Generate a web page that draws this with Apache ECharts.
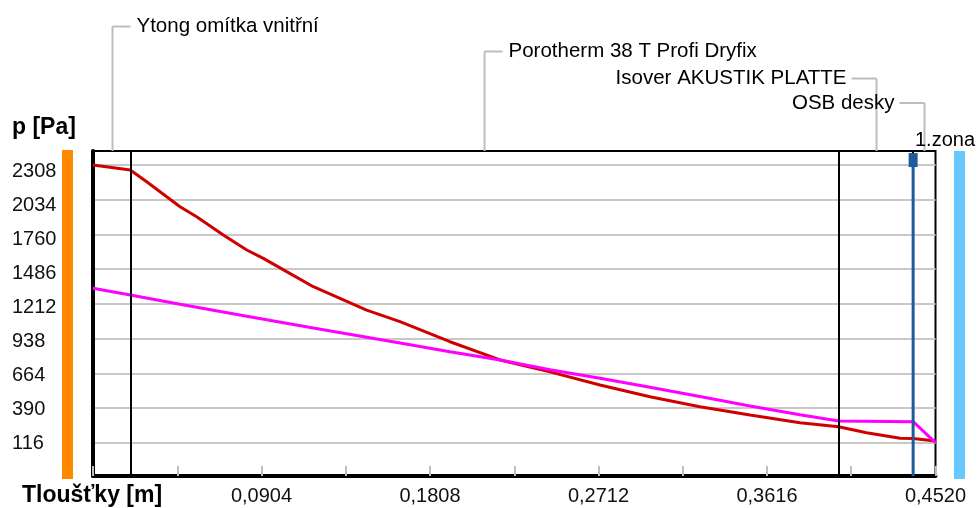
<!DOCTYPE html>
<html><head><meta charset="utf-8">
<script src="https://cdn.jsdelivr.net/npm/echarts@6/dist/echarts.min.js"></script>
<style>html,body{margin:0;padding:0;background:#fff}#c{width:978px;height:508px}</style>
</head><body><div id="c"></div>
<script>
// ---------------- data ----------------
const layerNames = ['Ytong omítka vnitřní', 'Porotherm 38 T Profi Dryfix', 'Isover AKUSTIK PLATTE', 'OSB desky'];
const layerBounds = [0, 0.02, 0.40, 0.44, 0.452];
const xLabelValues = [0.0904, 0.1808, 0.2712, 0.3616, 0.4520];
const yLabelValues = [116, 390, 664, 938, 1212, 1486, 1760, 2034, 2308];

const redX = [0, 0.02, 0.0288, 0.0467, 0.0556, 0.0699, 0.0825, 0.0914, 0.1039, 0.1182, 0.1325, 0.1468, 0.1647, 0.1915, 0.2184, 0.2452, 0.272, 0.2988, 0.3256, 0.3525, 0.3793, 0.40, 0.415, 0.433, 0.44, 0.452];
const redP = [2308, 2269, 2176, 1979, 1900, 1755, 1637, 1571, 1466, 1347, 1256, 1163, 1071, 913, 769, 675, 571, 479, 400, 334, 274, 242, 195, 151, 149, 130];

const pinkX = [0, 0.02, 0.0467, 0.0825, 0.1182, 0.1647, 0.1915, 0.2184, 0.2452, 0.272, 0.2988, 0.3256, 0.3525, 0.3793, 0.40, 0.44, 0.452];
const pinkP = [1335, 1282, 1208, 1114, 1022, 903, 834, 769, 692, 624, 553, 481, 405, 336, 287, 282, 116];

const zoneX = 0.44;
const zoneMarkerP = 2347;
const zoneName = '1.zona';
const xTitle = 'Tloušťky [m]';
const yTitle = 'p [Pa]';

// ---------------- chart ----------------
const FONT = '"Liberation Sans", Arial, sans-serif';
const yMin = -147, yMax = 2418.5;      // grid-line axis
const labMin = -148, labMax = 2475;    // label axis (labels sit slightly off the grid lines in the original)

const chart = echarts.init(document.getElementById('c'), null, {renderer: 'canvas'});

const zip = (xs, ys) => xs.map((x, i) => [x, ys[i]]);

chart.setOption({
  animation: false,
  backgroundColor: '#fff',
  grid: {left: 93, right: 42.5, top: 151, bottom: 32, show: true, borderColor: '#000', borderWidth: 2, backgroundColor: 'transparent'},
  xAxis: {
    type: 'value', min: 0, max: 0.452, interval: 0.0452,
    axisLine: {show: true, onZero: false, lineStyle: {color: '#000', width: 4}},
    axisTick: {show: true, inside: true, length: 10, lineStyle: {color: '#bdbdbd', width: 2}},
    axisLabel: {customValues: xLabelValues, formatter: v => v.toFixed(4).replace('.', ','),
      fontSize: 20, color: '#111', margin: 10, fontFamily: FONT},
    splitLine: {show: false}
  },
  yAxis: [{
    type: 'value', min: yMin, max: yMax, position: 'left',
    axisLine: {show: true, onZero: false, lineStyle: {color: '#000', width: 4}},
    axisTick: {show: false, customValues: yLabelValues},
    axisLabel: {show: false, customValues: yLabelValues},
    splitLine: {show: true, lineStyle: {color: '#c8c8c8', width: 2}}
  }, {
    type: 'value', min: labMin, max: labMax, position: 'left', offset: 0,
    axisLine: {show: false}, axisTick: {show: false}, splitLine: {show: false},
    axisLabel: {customValues: yLabelValues, formatter: v => String(Math.round(v)), align: 'left', margin: 81, fontSize: 20, color: '#111', fontFamily: FONT}
  }],
  series: [{
    type: 'line', name: 'bounds', data: [], silent: true,
    markLine: {silent: true, symbol: ['none', 'none'], label: {show: false},
      lineStyle: {color: '#000', width: 2, type: 'solid'},
      data: layerBounds.slice(1, -1).map(v => ({xAxis: v}))}
  }, {
    type: 'line', name: 'red', data: zip(redX, redP), showSymbol: false, symbol: 'none',
    lineStyle: {color: '#d10000', width: 3}, itemStyle: {color: '#d10000'}, z: 3
  }, {
    type: 'line', name: 'pink', data: zip(pinkX, pinkP), showSymbol: false, symbol: 'none',
    lineStyle: {color: '#ff00ff', width: 3}, itemStyle: {color: '#ff00ff'}, z: 4
  }, {
    type: 'line', name: 'zone',
    data: [{value: [zoneX, yMin], symbol: 'none'}, {value: [zoneX, zoneMarkerP], symbol: 'rect', symbolSize: [9, 14]}],
    showSymbol: true, lineStyle: {color: '#1e5b9a', width: 3}, itemStyle: {color: '#1e5b9a'}, z: 5
  }]
});

// ---------------- annotations ----------------
const px = v => chart.convertToPixel({xAxisIndex: 0}, v);
const plotTop = 151;
const labelY = [26.5, 51.5, 78.5, 103];
const labelSide = ['right', 'right', 'left', 'left'];
const LEAD = '#bdbdbd';
const g = [];
layerNames.forEach((name, i) => {
  const vx = Math.round(px((layerBounds[i] + layerBounds[i + 1]) / 2)) + 0.5;
  const ly = labelY[i];
  g.push({type: 'line', shape: {x1: vx, y1: plotTop, x2: vx, y2: ly}, style: {stroke: LEAD, lineWidth: 2}, silent: true});
  if (labelSide[i] === 'right') {
    g.push({type: 'line', shape: {x1: vx, y1: ly, x2: vx + 18, y2: ly}, style: {stroke: LEAD, lineWidth: 2}, silent: true});
    g.push({type: 'text', x: vx + 24, y: ly, style: {text: name, font: '20.5px ' + FONT, fill: '#000', align: 'left', verticalAlign: 'middle', textAlign: 'left', textVerticalAlign: 'middle'}});
  } else {
    g.push({type: 'line', shape: {x1: vx, y1: ly, x2: vx - 25, y2: ly}, style: {stroke: LEAD, lineWidth: 2}, silent: true});
    g.push({type: 'text', x: vx - 30, y: ly, style: {text: name, font: '20.5px ' + FONT, fill: '#000', align: 'right', verticalAlign: 'middle', textAlign: 'right', textVerticalAlign: 'middle'}});
  }
});
// side colour bars
g.push({type: 'rect', shape: {x: 62, y: 150, width: 11, height: 329}, style: {fill: '#ff8800'}, silent: true});
g.push({type: 'rect', shape: {x: 954, y: 151, width: 11, height: 328}, style: {fill: '#66c8ff'}, silent: true});
// zone label and axis titles
g.push({type: 'text', x: 975, y: 140, style: {text: zoneName, font: '20px ' + FONT, fill: '#000', align: 'right', verticalAlign: 'middle', textAlign: 'right', textVerticalAlign: 'middle'}});
g.push({type: 'text', x: 12, y: 128, style: {text: yTitle, font: 'bold 23px ' + FONT, fill: '#000', align: 'left', verticalAlign: 'middle', textAlign: 'left', textVerticalAlign: 'middle'}});
g.push({type: 'text', x: 22, y: 496, style: {text: xTitle, font: 'bold 23px ' + FONT, fill: '#000', align: 'left', verticalAlign: 'middle', textAlign: 'left', textVerticalAlign: 'middle'}});
chart.setOption({graphic: g});
</script>
</body></html>
